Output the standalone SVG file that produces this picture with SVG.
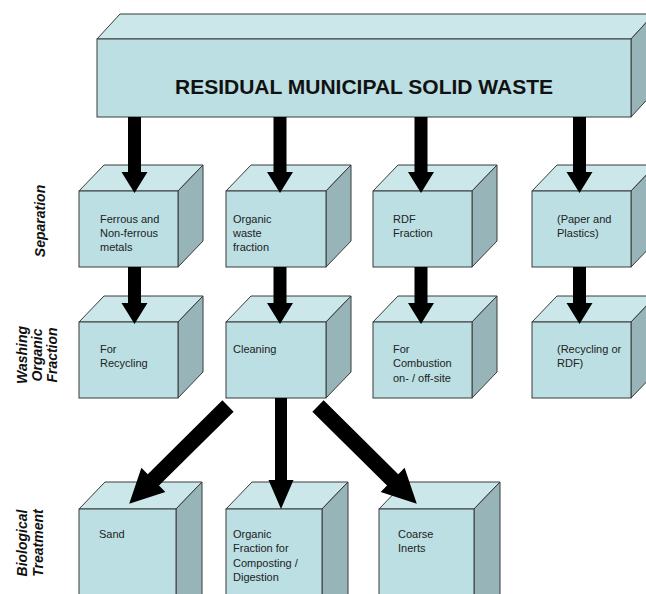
<svg xmlns="http://www.w3.org/2000/svg" width="646" height="594" viewBox="0 0 646 594">
<style>
.front{fill:#BBDFE3;stroke:#3a3a3a;stroke-width:1}
.top{fill:#CCE7EA;stroke:#3a3a3a;stroke-width:1}
.side{fill:#97B5B8;stroke:#3a3a3a;stroke-width:1}
.t{font-family:"Liberation Sans",Arial,sans-serif;font-size:11px;fill:#222}
.title{font-family:"Liberation Sans",Arial,sans-serif;font-size:21px;font-weight:bold;fill:#111}
.lab{font-family:"Liberation Sans",Arial,sans-serif;font-size:14px;font-weight:bold;font-style:italic;fill:#111}
.arr{fill:#000}
</style>
<rect width="646" height="594" fill="#fff"/>
<g id="stage-labels">
<text class="lab" text-anchor="middle" transform="translate(45,221) rotate(-90)">Separation</text>
<text class="lab" text-anchor="middle" transform="translate(0,355) rotate(-90)"><tspan x="0" y="27">Washing</tspan><tspan x="0" y="42">Organic</tspan><tspan x="0" y="57">Fraction</tspan></text>
<text class="lab" text-anchor="middle" transform="translate(0,543) rotate(-90)"><tspan x="0" y="27">Biological</tspan><tspan x="0" y="43">Treatment</tspan></text>
</g>
<g id="msw">
<polygon class="top" points="97,39 120,14 654,14 631,39"/>
<polygon class="side" points="631,39 654,14 654,92 631,117"/>
<rect class="front" x="97" y="39" width="534" height="78"/>
<text class="title" x="364" y="94" text-anchor="middle">RESIDUAL MUNICIPAL SOLID WASTE</text>
</g>
<g id="ferrous">
<polygon class="top" points="79,191 104,165 203,165 178,191"/>
<polygon class="side" points="178,191 203,165 203,241 178,267"/>
<rect class="front" x="79" y="191" width="99" height="76"/>
<text class="t"><tspan x="100" y="223">Ferrous and</tspan><tspan x="100" y="237">Non-ferrous</tspan><tspan x="100" y="251">metals</tspan></text>
</g>
<g id="organic-waste">
<polygon class="top" points="226,191 251,165 351,165 326,191"/>
<polygon class="side" points="326,191 351,165 351,241 326,267"/>
<rect class="front" x="226" y="191" width="100" height="76"/>
<text class="t"><tspan x="233" y="223">Organic</tspan><tspan x="233" y="237">waste</tspan><tspan x="233" y="251">fraction</tspan></text>
</g>
<g id="rdf">
<polygon class="top" points="373,191 398,165 497,165 472,191"/>
<polygon class="side" points="472,191 497,165 497,241 472,267"/>
<rect class="front" x="373" y="191" width="99" height="76"/>
<text class="t"><tspan x="393" y="223">RDF</tspan><tspan x="393" y="237">Fraction</tspan></text>
</g>
<g id="paper">
<polygon class="top" points="532,191 557,165 656,165 631,191"/>
<polygon class="side" points="631,191 656,165 656,241 631,267"/>
<rect class="front" x="532" y="191" width="99" height="76"/>
<text class="t"><tspan x="557" y="223">(Paper and</tspan><tspan x="557" y="237">Plastics)</tspan></text>
</g>
<g id="recycling">
<polygon class="top" points="79,322 104,296 203,296 178,322"/>
<polygon class="side" points="178,322 203,296 203,372 178,398"/>
<rect class="front" x="79" y="322" width="99" height="76"/>
<text class="t"><tspan x="100" y="353">For</tspan><tspan x="100" y="367">Recycling</tspan></text>
</g>
<g id="cleaning">
<polygon class="top" points="226,322 251,296 351,296 326,322"/>
<polygon class="side" points="326,322 351,296 351,372 326,398"/>
<rect class="front" x="226" y="322" width="100" height="76"/>
<text class="t"><tspan x="233" y="353">Cleaning</tspan></text>
</g>
<g id="combustion">
<polygon class="top" points="373,322 398,296 497,296 472,322"/>
<polygon class="side" points="472,322 497,296 497,372 472,398"/>
<rect class="front" x="373" y="322" width="99" height="76"/>
<text class="t"><tspan x="393" y="353">For</tspan><tspan x="393" y="367">Combustion</tspan><tspan x="393" y="382">on- / off-site</tspan></text>
</g>
<g id="recycling-rdf">
<polygon class="top" points="532,322 557,296 656,296 631,322"/>
<polygon class="side" points="631,322 656,296 656,372 631,398"/>
<rect class="front" x="532" y="322" width="99" height="76"/>
<text class="t"><tspan x="557" y="353">(Recycling or</tspan><tspan x="557" y="367">RDF)</tspan></text>
</g>
<g id="sand">
<polygon class="top" points="79,509 105,482 202,482 176,509"/>
<polygon class="side" points="176,509 202,482 202,600 176,600"/>
<rect class="front" x="79" y="509" width="97" height="100"/>
<text class="t"><tspan x="99" y="538">Sand</tspan></text>
</g>
<g id="organic-fraction">
<polygon class="top" points="226,509 252,482 348,482 322,509"/>
<polygon class="side" points="322,509 348,482 348,600 322,600"/>
<rect class="front" x="226" y="509" width="96" height="100"/>
<text class="t"><tspan x="233" y="538">Organic</tspan><tspan x="233" y="552">Fraction for</tspan><tspan x="233" y="567">Composting /</tspan><tspan x="233" y="581">Digestion</tspan></text>
</g>
<g id="coarse">
<polygon class="top" points="379,509 405,482 500,482 474,509"/>
<polygon class="side" points="474,509 500,482 500,600 474,600"/>
<rect class="front" x="379" y="509" width="95" height="100"/>
<text class="t"><tspan x="398" y="538">Coarse</tspan><tspan x="398" y="552">Inerts</tspan></text>
</g>
<g id="connectors">
<polygon class="arr" points="128,117 141,117 141,172 147.5,172 134.5,193 121.5,172 128,172"/>
<polygon class="arr" points="273.5,117 286.5,117 286.5,172 293,172 280,193 267,172 273.5,172"/>
<polygon class="arr" points="414.5,117 427.5,117 427.5,172 434,172 421,193 408,172 414.5,172"/>
<polygon class="arr" points="573,117 586,117 586,172 592.5,172 579.5,193 566.5,172 573,172"/>
<polygon class="arr" points="128,267 141,267 141,303 147.5,303 134.5,324 121.5,303 128,303"/>
<polygon class="arr" points="273.5,267 286.5,267 286.5,303 293,303 280,324 267,303 273.5,303"/>
<polygon class="arr" points="414.5,267 427.5,267 427.5,303 434,303 421,324 408,303 414.5,303"/>
<polygon class="arr" points="573,267 586,267 586,303 592.5,303 579.5,324 566.5,303 573,303"/>
<polygon class="arr" points="275,398 287,398 287,480 293.5,480 281,509 268.5,480 275,480"/>
<polygon class="arr" transform="translate(228,406) rotate(135.3)" points="0,-8 105,-8 105,-17 139,0 105,17 105,8 0,8"/>
<polygon class="arr" transform="translate(318,406) rotate(44.7)" points="0,-8 105,-8 105,-17 139,0 105,17 105,8 0,8"/>
</g>
</svg>
